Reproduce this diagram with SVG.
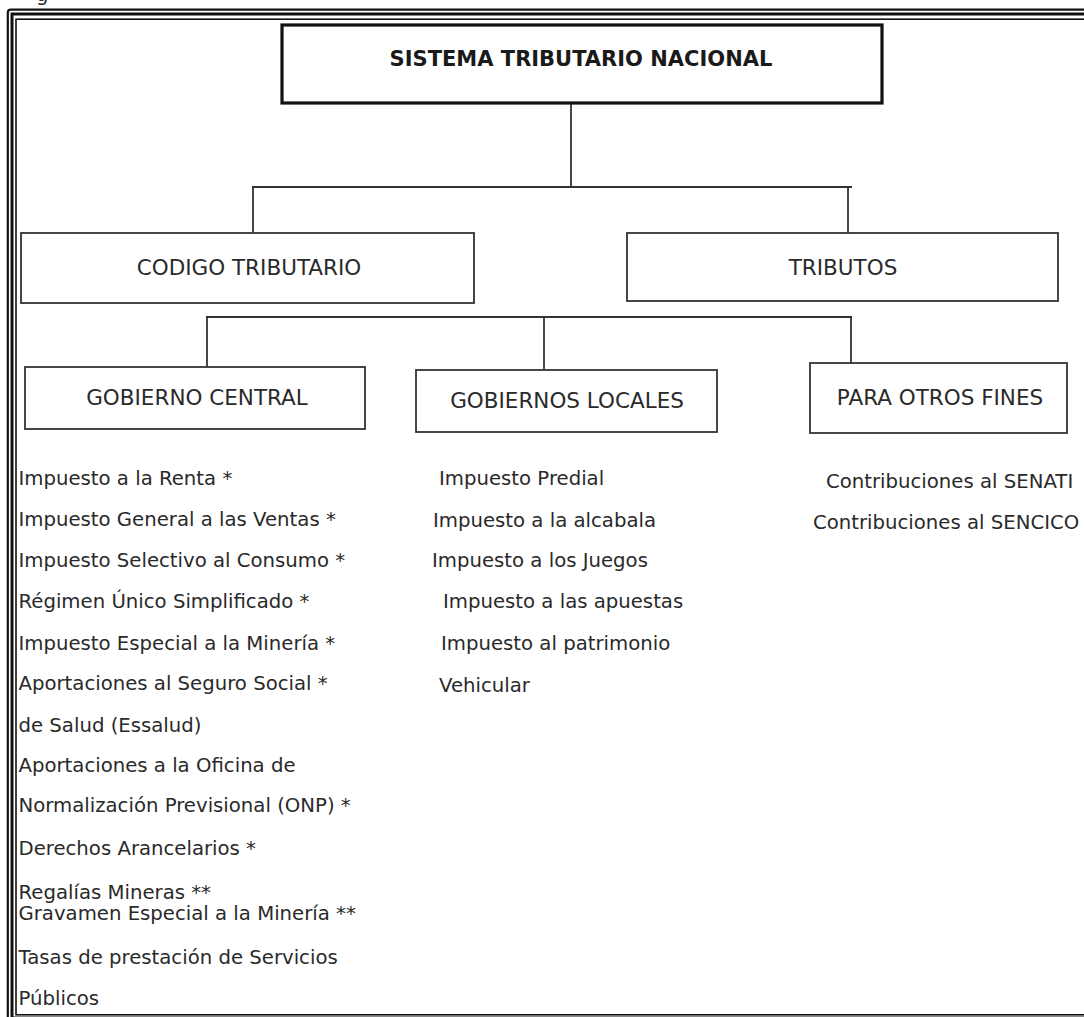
<svg xmlns="http://www.w3.org/2000/svg" width="1084" height="1017" viewBox="0 0 1084 1017">
<style>
.bg{fill:#ffffff}
.frame{fill:none;stroke:#111}
.box{fill:#ffffff;stroke:#333;stroke-width:1.8}
.top{fill:#ffffff;stroke:#111;stroke-width:3.2}
.lbl{font-family:"DejaVu Sans",Verdana,sans-serif;font-size:21.5px;fill:#2a2a2a;text-anchor:middle}
.ttl{font-family:"DejaVu Sans",Verdana,sans-serif;font-size:21px;font-weight:bold;fill:#1a1a1a;text-anchor:middle}
.item{font-family:"DejaVu Sans",Verdana,sans-serif;font-size:19.7px;fill:#2a2a2a}
.conn{fill:none;stroke:#333;stroke-width:1.8}
</style>
<rect class="bg" x="0" y="0" width="1084" height="1017"/>
<text class="item" x="36" y="1" font-size="22">g</text>
<g id="frame">
<rect class="frame" x="7.8" y="9.6" width="1100" height="1040" rx="3" stroke-width="2.2"/>
<rect class="frame" x="12" y="14" width="1100" height="1004" stroke-width="3"/>
<rect class="frame" x="16" y="19.2" width="1100" height="995.6" stroke-width="1.6"/>
</g>
<g id="connectors">
<line class="conn" x1="571" y1="104" x2="571" y2="187"/>
<line class="conn" x1="252" y1="187" x2="852" y2="187"/>
<line class="conn" x1="253" y1="187" x2="253" y2="233"/>
<line class="conn" x1="848" y1="187" x2="848" y2="233"/>
<line class="conn" x1="206" y1="317" x2="852" y2="317"/>
<line class="conn" x1="207" y1="317" x2="207" y2="367"/>
<line class="conn" x1="544" y1="317" x2="544" y2="370"/>
<line class="conn" x1="851" y1="317" x2="851" y2="363"/>
</g>
<g id="n-sistema">
<rect class="top" x="282" y="25" width="600" height="78"/>
<text class="ttl" x="581" y="66">SISTEMA TRIBUTARIO NACIONAL</text>
</g>
<g id="n-codigo">
<rect class="box" x="21" y="233" width="453" height="70"/>
<text class="lbl" x="249" y="275">CODIGO TRIBUTARIO</text>
</g>
<g id="n-tributos">
<rect class="box" x="627" y="233" width="431" height="68"/>
<text class="lbl" x="843" y="275">TRIBUTOS</text>
</g>
<g id="n-central">
<rect class="box" x="25" y="367" width="340" height="62"/>
<text class="lbl" x="197" y="405">GOBIERNO CENTRAL</text>
</g>
<g id="n-locales">
<rect class="box" x="416" y="370" width="301" height="62"/>
<text class="lbl" x="567" y="408">GOBIERNOS LOCALES</text>
</g>
<g id="n-otros">
<rect class="box" x="810" y="363" width="257" height="70"/>
<text class="lbl" x="940" y="405">PARA OTROS FINES</text>
</g>
<g id="list-central">
<text class="item" x="18.5" y="485">Impuesto a la Renta *</text>
<text class="item" x="18.5" y="526">Impuesto General a las Ventas *</text>
<text class="item" x="18.5" y="567">Impuesto Selectivo al Consumo *</text>
<text class="item" x="18.5" y="608">Régimen Único Simplificado *</text>
<text class="item" x="18.5" y="650">Impuesto Especial a la Minería *</text>
<text class="item" x="18.5" y="690">Aportaciones al Seguro Social *</text>
<text class="item" x="18.5" y="732">de Salud (Essalud)</text>
<text class="item" x="18.5" y="772">Aportaciones a la Oficina de</text>
<text class="item" x="18.5" y="812">Normalización Previsional (ONP) *</text>
<text class="item" x="18.5" y="855">Derechos Arancelarios *</text>
<text class="item" x="18.5" y="899">Regalías Mineras **</text>
<text class="item" x="18.5" y="920">Gravamen Especial a la Minería **</text>
<text class="item" x="18.5" y="964">Tasas de prestación de Servicios</text>
<text class="item" x="18.5" y="1005">Públicos</text>
</g>
<g id="list-locales">
<text class="item" x="439" y="485">Impuesto Predial</text>
<text class="item" x="433" y="527">Impuesto a la alcabala</text>
<text class="item" x="432" y="567">Impuesto a los Juegos</text>
<text class="item" x="443" y="608">Impuesto a las apuestas</text>
<text class="item" x="441" y="650">Impuesto al patrimonio</text>
<text class="item" x="439" y="692">Vehicular</text>
</g>
<g id="list-otros">
<text class="item" x="826" y="488">Contribuciones al SENATI</text>
<text class="item" x="813" y="529">Contribuciones al SENCICO</text>
</g>
</svg>
